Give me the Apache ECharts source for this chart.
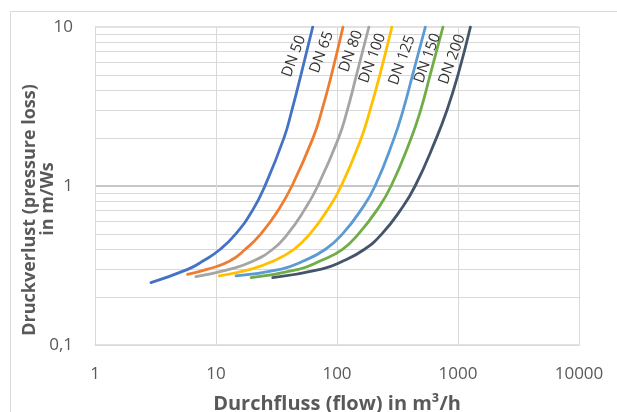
<!DOCTYPE html>
<html>
<head>
<meta charset="utf-8">
<script src="https://cdn.jsdelivr.net/npm/echarts@6/dist/echarts.min.js"></script>
<style>html,body{margin:0;padding:0;background:#fff;}#c{width:617px;height:412px;}</style>
</head>
<body>
<div id="c"></div>
<script>
// Series names
var seriesNames = ['DN 50', 'DN 65', 'DN 80', 'DN 100', 'DN 125', 'DN 150', 'DN 200'];
// Pressure loss (m/Ws) levels (first entry = start of each curve)
var dn50H  = [0.247, 0.3, 0.336, 0.4, 0.5, 0.7, 1, 2, 3, 5, 10];
var dn65H  = [0.278, 0.3, 0.336, 0.4, 0.5, 0.7, 1, 2, 3, 5, 10];
var dn80H  = [0.269, 0.3, 0.336, 0.4, 0.5, 0.7, 1, 2, 3, 5, 10];
var dn100H = [0.272, 0.3, 0.336, 0.4, 0.5, 0.7, 1, 2, 3, 5, 10];
var dn125H = [0.272, 0.3, 0.336, 0.4, 0.5, 0.7, 1, 2, 3, 5, 10];
var dn150H = [0.265, 0.3, 0.336, 0.4, 0.5, 0.7, 1, 2, 3, 5, 10];
var dn200H = [0.265, 0.3, 0.336, 0.4, 0.5, 0.7, 1, 2, 3, 5, 10];
// Flow (m³/h) at those levels
var dn50Q  = [2.90, 5.90, 7.74, 10.85, 14.58, 19.97, 25.35, 36.4, 42.4, 50.35, 63.0];
var dn65Q  = [5.82, 8.55, 12.88, 17.48, 23.5, 32.5, 42.4, 63.3, 75.1, 90.0, 112.1];
var dn80Q  = [6.83, 13.14, 20.09, 29.42, 39.14, 53.3, 69.35, 102.9, 121.7, 145.0, 183.4];
var dn100Q = [10.65, 19.6, 29.42, 44.06, 59.77, 82.6, 108.3, 158.6, 187.6, 226.1, 284.1];
var dn125Q = [14.64, 34.71, 52.12, 80.33, 111.1, 156.5, 206.3, 296.5, 351.9, 421.7, 537.2];
var dn150Q = [19.49, 48.92, 71.65, 111.1, 150.7, 212.3, 279.9, 410.0, 491.2, 588.8, 751.2];
var dn200Q = [29.42, 74.43, 111.1, 168.9, 234.9, 332.3, 442.3, 662.4, 811.0, 1000, 1266.6];
// label anchors (data coords)
var labelQ = [44.1, 74.8, 130.6, 196.4, 344.5, 559.6, 892];
var labelH = [6.54, 6.93, 7.03, 6.36, 6.18, 6.36, 6.26];
// minor y grid values
var yMinor = [0.2, 0.3, 0.4, 0.5, 0.6, 0.7, 0.8, 0.9, 2, 3, 4, 5, 6, 7, 8, 9];

var colors = ['#4472C4', '#ED7D31', '#A5A5A5', '#FFC000', '#5B9BD5', '#70AD47', '#44546A'];
var qs = [dn50Q, dn65Q, dn80Q, dn100Q, dn125Q, dn150Q, dn200Q];
var hs = [dn50H, dn65H, dn80H, dn100H, dn125H, dn150H, dn200H];
var FONT = 'Open Sans';
var grey = '#595959';

var series = seriesNames.map(function (name, i) {
  var s = {
    name: name,
    type: 'line',
    smooth: 0.5,
    showSymbol: false,
    symbol: 'none',
    z: 3,
    lineStyle: { color: colors[i], width: 2.8, cap: 'round' },
    itemStyle: { color: colors[i] },
    data: qs[i].map(function (q, j) { return [q, hs[i][j]]; }),
    markPoint: {
      silent: true,
      symbol: 'circle',
      symbolSize: 0,
      itemStyle: { color: 'transparent' },
      label: {
        show: true, position: 'inside', formatter: name, rotate: 70,
        color: '#333333', fontSize: 15, fontFamily: FONT
      },
      data: [{ coord: [labelQ[i], labelH[i]] }]
    }
  };
  if (i === 0) {
    s.markLine = {
      silent: true, symbol: 'none', z: 1,
      label: { show: false },
      lineStyle: { color: '#d9d9d9', width: 1, type: 'solid' },
      emphasis: { disabled: true },
      data: yMinor.map(function (v) { return { yAxis: v }; })
    };
  }
  return s;
});

var chart = echarts.init(document.getElementById('c'), null, { renderer: 'canvas' });
chart.setOption({
  animation: false,
  backgroundColor: '#ffffff',
  grid: { left: 95, right: 38, top: 27, bottom: 67, containLabel: false, outerBoundsMode: 'none' },
  xAxis: {
    type: 'log', logBase: 10, min: 1, max: 10000,
    axisLine: { show: true, lineStyle: { color: '#d9d9d9', width: 1 } },
    axisTick: { show: false },
    splitLine: { show: true, lineStyle: { color: '#d9d9d9', width: 1 } },
    axisLabel: {
      color: grey, fontSize: 17, margin: 21, fontFamily: FONT,
      formatter: function (v) { return String(Math.round(v)); }
    },
    name: 'Durchfluss (flow) in m³/h',
    nameLocation: 'middle', nameGap: 49,
    nameTextStyle: { color: grey, fontSize: 20, fontWeight: 'bold', fontFamily: FONT }
  },
  yAxis: {
    type: 'log', logBase: 10, min: 0.1, max: 10,
    axisLine: { show: true, lineStyle: { color: '#d9d9d9', width: 1 } },
    axisTick: { show: false },
    splitLine: { show: true, lineStyle: { color: ['#d9d9d9', '#b5b5b5', '#d9d9d9'], width: 1.5 } },
    axisLabel: {
      color: grey, fontSize: 17, margin: 22, fontFamily: FONT,
      formatter: function (v) { return String(Number(v.toPrecision(6))).replace('.', ','); }
    }
  },
  graphic: [
    { type: 'rect', silent: true, z: -1, shape: { x: 10.5, y: 11.5, width: 700, height: 500 },
      style: { fill: 'none', stroke: '#d9d9d9', lineWidth: 1 } },
    { type: 'text', x: 30, y: 210, rotation: Math.PI / 2, silent: true,
      style: { text: 'Druckverlust (pressure loss)', fill: grey, fontSize: 18, fontWeight: 'bold',
               fontFamily: FONT, align: 'center', verticalAlign: 'middle' } },
    { type: 'text', x: 48, y: 199, rotation: Math.PI / 2, silent: true,
      style: { text: 'in m/Ws', fill: grey, fontSize: 18, fontWeight: 'bold',
               fontFamily: FONT, align: 'center', verticalAlign: 'middle' } }
  ],
  series: series
});
</script>
</body>
</html>
